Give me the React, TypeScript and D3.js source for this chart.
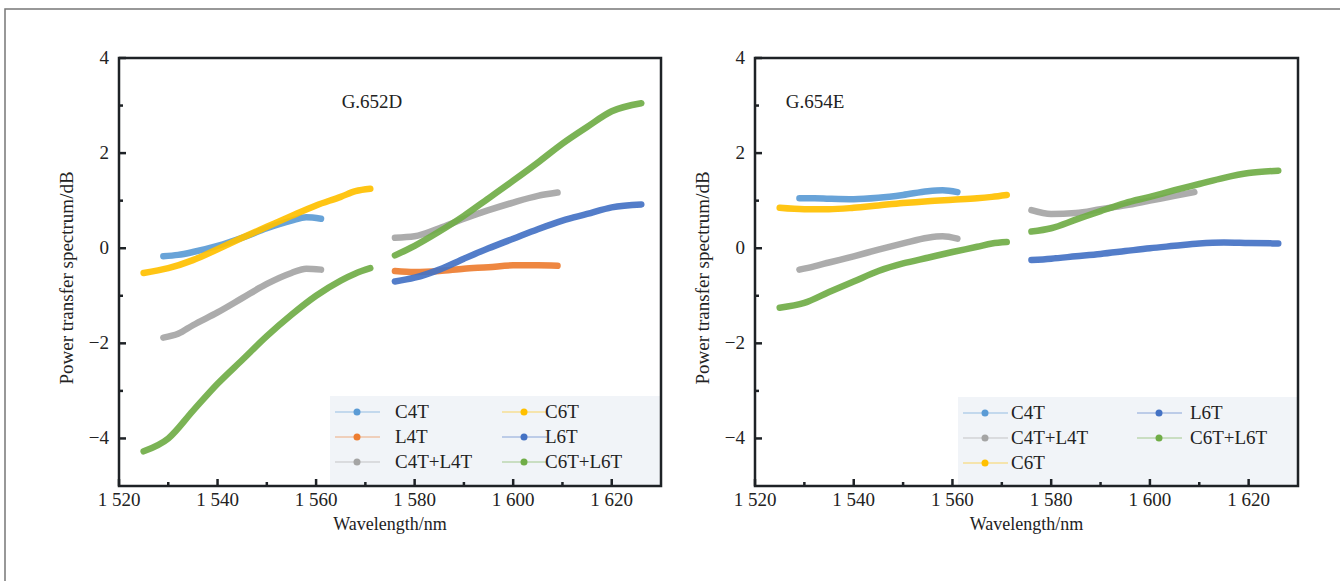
import * as d3 from 'd3'

// wavelength grids (nm) for each band / channel plan
const wlC4 = [1529, 1532, 1535, 1540, 1545, 1550, 1555, 1558, 1561]
const wlC6 = [1525, 1530, 1535, 1540, 1545, 1550, 1555, 1560, 1565, 1568, 1571]
const wlL4 = [1576, 1580, 1585, 1590, 1595, 1600, 1605, 1609]
const wlL6 = [1576, 1580, 1585, 1590, 1595, 1600, 1605, 1610, 1615, 1620, 1626]

// G.652D
const d652C4T = [-0.17, -0.14, -0.08, 0.05, 0.22, 0.42, 0.58, 0.65, 0.62]
const d652L4T = [-0.48, -0.5, -0.48, -0.43, -0.4, -0.36, -0.36, -0.37]
const d652C4L4C = [-1.88, -1.8, -1.62, -1.35, -1.05, -0.75, -0.52, -0.43, -0.45]
const d652C4L4L = [0.22, 0.25, 0.42, 0.62, 0.8, 0.96, 1.1, 1.17]
const d652C6T = [-0.52, -0.42, -0.25, -0.02, 0.22, 0.45, 0.68, 0.9, 1.08, 1.2, 1.25]
const d652L6T = [-0.7, -0.62, -0.45, -0.22, 0.0, 0.2, 0.4, 0.58, 0.72, 0.86, 0.92]
const d652C6L6C = [-4.27, -4.0, -3.42, -2.85, -2.35, -1.85, -1.4, -1.0, -0.68, -0.53, -0.42]
const d652C6L6L = [-0.15, 0.05, 0.35, 0.68, 1.05, 1.42, 1.8, 2.2, 2.55, 2.88, 3.05]

// G.654E
const d654C4T = [1.05, 1.05, 1.04, 1.03, 1.06, 1.12, 1.2, 1.22, 1.18]
const d654C4L4C = [-0.45, -0.38, -0.3, -0.17, -0.03, 0.1, 0.22, 0.25, 0.2]
const d654C4L4L = [0.8, 0.72, 0.74, 0.82, 0.9, 1.0, 1.1, 1.18]
const d654C6T = [0.85, 0.82, 0.82, 0.85, 0.9, 0.95, 0.99, 1.02, 1.05, 1.08, 1.12]
const d654L6T = [-0.25, -0.22, -0.17, -0.12, -0.06, 0.0, 0.05, 0.1, 0.12, 0.11, 0.1]
const d654C6L6C = [-1.25, -1.15, -0.92, -0.7, -0.48, -0.32, -0.2, -0.08, 0.03, 0.1, 0.13]
const d654C6L6L = [0.35, 0.42, 0.6, 0.78, 0.95, 1.08, 1.22, 1.35, 1.48, 1.58, 1.63]

const xTicks = [1520, 1540, 1560, 1580, 1600, 1620]
const yTicks = [4, 2, 0, -2, -4]

const colors = {
  C4T: '#5b9bd5',
  L4T: '#ed7d31',
  'C4T+L4T': '#a5a5a5',
  C6T: '#ffc000',
  L6T: '#4472c4',
  'C6T+L6T': '#70ad47',
}

type Seg = { name: string; xs: number[]; ys: number[] }

const panels = [
  {
    title: 'G.652D',
    left: 119,
    right: 661,
    titleX: 372,
    legendBox: [330, 396, 331, 90],
    legendCols: [335, 502],
    legendText: [395, 545],
    legend: [['C4T', 'L4T', 'C4T+L4T'], ['C6T', 'L6T', 'C6T+L6T']],
    segs: [
      { name: 'C4T+L4T', xs: wlC4, ys: d652C4L4C },
      { name: 'C4T+L4T', xs: wlL4, ys: d652C4L4L },
      { name: 'C4T', xs: wlC4, ys: d652C4T },
      { name: 'C6T', xs: wlC6, ys: d652C6T },
      { name: 'L4T', xs: wlL4, ys: d652L4T },
      { name: 'L6T', xs: wlL6, ys: d652L6T },
      { name: 'C6T+L6T', xs: wlC6, ys: d652C6L6C },
      { name: 'C6T+L6T', xs: wlL6, ys: d652C6L6L },
    ] as Seg[],
  },
  {
    title: 'G.654E',
    left: 755,
    right: 1298,
    titleX: 815,
    legendBox: [958, 397, 339, 89],
    legendCols: [963, 1137],
    legendText: [1011, 1190],
    legend: [['C4T', 'C4T+L4T', 'C6T'], ['L6T', 'C6T+L6T']],
    segs: [
      { name: 'C4T+L4T', xs: wlC4, ys: d654C4L4C },
      { name: 'C4T+L4T', xs: wlL4, ys: d654C4L4L },
      { name: 'C6T', xs: wlC6, ys: d654C6T },
      { name: 'C4T', xs: wlC4, ys: d654C4T },
      { name: 'L6T', xs: wlL6, ys: d654L6T },
      { name: 'C6T+L6T', xs: wlC6, ys: d654C6L6C },
      { name: 'C6T+L6T', xs: wlL6, ys: d654C6L6L },
    ] as Seg[],
  },
]

const TOP = 58
const BOTTOM = 486
const serif = "'Times New Roman', 'Liberation Serif', 'DejaVu Serif', serif"
const txt = { fontFamily: serif, fill: '#222' }

const fmtX = (v: number) => String(v).replace(/^(\d)(\d{3})$/, '$1 $2')
const fmtY = (v: number) => (v < 0 ? '\u2212' + Math.abs(v) : String(v))

const Panel = ({ p }: { p: (typeof panels)[number] }) => {
  const x = d3.scaleLinear().domain([1520, 1630]).range([p.left, p.right])
  const y = d3.scaleLinear().domain([-5, 4]).range([BOTTOM, TOP])
  const line = d3.line().curve(d3.curveMonotoneX)
  const minorX = d3.range(1530, 1630, 20)
  const minorY = [3, 1, -1, -3]
  const midX = (p.left + p.right) / 2

  return (
    <g>
      {/* legend background */}
      <rect
        x={p.legendBox[0]}
        y={p.legendBox[1]}
        width={p.legendBox[2]}
        height={p.legendBox[3]}
        fill='#f1f4f8'
      />
      {p.legend.map((col, ci) =>
        col.map((name, ri) => {
          const lx = p.legendCols[ci]
          const ly = p.legendBox[1] + 16 + ri * 25
          return (
            <g key={name}>
              <line x1={lx} x2={lx + 45} y1={ly} y2={ly} stroke={colors[name]} strokeWidth={1} opacity={0.6} />
              <circle cx={lx + 22} cy={ly} r={3.5} fill={colors[name]} />
              <text x={p.legendText[ci]} y={ly + 6} fontSize={19} style={txt}>
                {name}
              </text>
            </g>
          )
        })
      )}

      {/* series */}
      {p.segs.map((s, i) => {
        const pts = s.xs.map((v, k) => [x(v), y(s.ys[k])] as [number, number])
        return (
          <path
            key={i}
            d={line(pts) || ''}
            fill='none'
            stroke={colors[s.name]}
            strokeWidth={6.5}
            strokeLinecap='round'
            strokeLinejoin='round'
            opacity={0.92}
          />
        )
      })}

      <text x={p.titleX} y={108} textAnchor='middle' fontSize={19} style={txt}>
        {p.title}
      </text>

      {/* frame */}
      <rect x={p.left} y={TOP} width={p.right - p.left} height={BOTTOM - TOP} fill='none' stroke='#1e2226' strokeWidth={2.5} />

      {/* x ticks */}
      {xTicks.map((t) => (
        <g key={t}>
          <line x1={x(t)} x2={x(t)} y1={BOTTOM} y2={BOTTOM - 7} stroke='#1e2226' strokeWidth={2.5} />
          <text x={x(t)} y={506} textAnchor='middle' fontSize={19} style={txt}>
            {fmtX(t)}
          </text>
        </g>
      ))}
      {minorX.map((t) => (
        <line key={t} x1={x(t)} x2={x(t)} y1={BOTTOM} y2={BOTTOM - 4} stroke='#1e2226' strokeWidth={2.5} />
      ))}

      {/* y ticks */}
      {yTicks.map((t) => (
        <g key={t}>
          <line x1={p.left} x2={p.left + 7} y1={y(t)} y2={y(t)} stroke='#1e2226' strokeWidth={2.5} />
          <text x={p.left - 10} y={y(t) + 6} textAnchor='end' fontSize={19} style={txt}>
            {fmtY(t)}
          </text>
        </g>
      ))}
      {minorY.map((t) => (
        <line key={t} x1={p.left} x2={p.left + 4} y1={y(t)} y2={y(t)} stroke='#1e2226' strokeWidth={2.5} />
      ))}

      <text x={midX} y={530} textAnchor='middle' fontSize={18} style={txt}>
        Wavelength/nm
      </text>
      <text
        transform={`translate(${p.left - 46}, ${(TOP + BOTTOM) / 2 + 6}) rotate(-90)`}
        textAnchor='middle'
        fontSize={19}
        style={txt}
      >
        Power transfer spectrum/dB
      </text>
    </g>
  )
}

export default function App() {
  return (
    <svg
      width={1340}
      height={581}
      style={{ position: 'absolute', left: 0, top: 0, background: '#fff' }}
    >
      <rect x={0} y={0} width={1340} height={581} fill='#fff' />
      <rect x={5} y={9} width={1400} height={700} fill='none' stroke='#777' strokeWidth={1.5} />
      {panels.map((p) => (
        <Panel key={p.title} p={p} />
      ))}
    </svg>
  )
}
